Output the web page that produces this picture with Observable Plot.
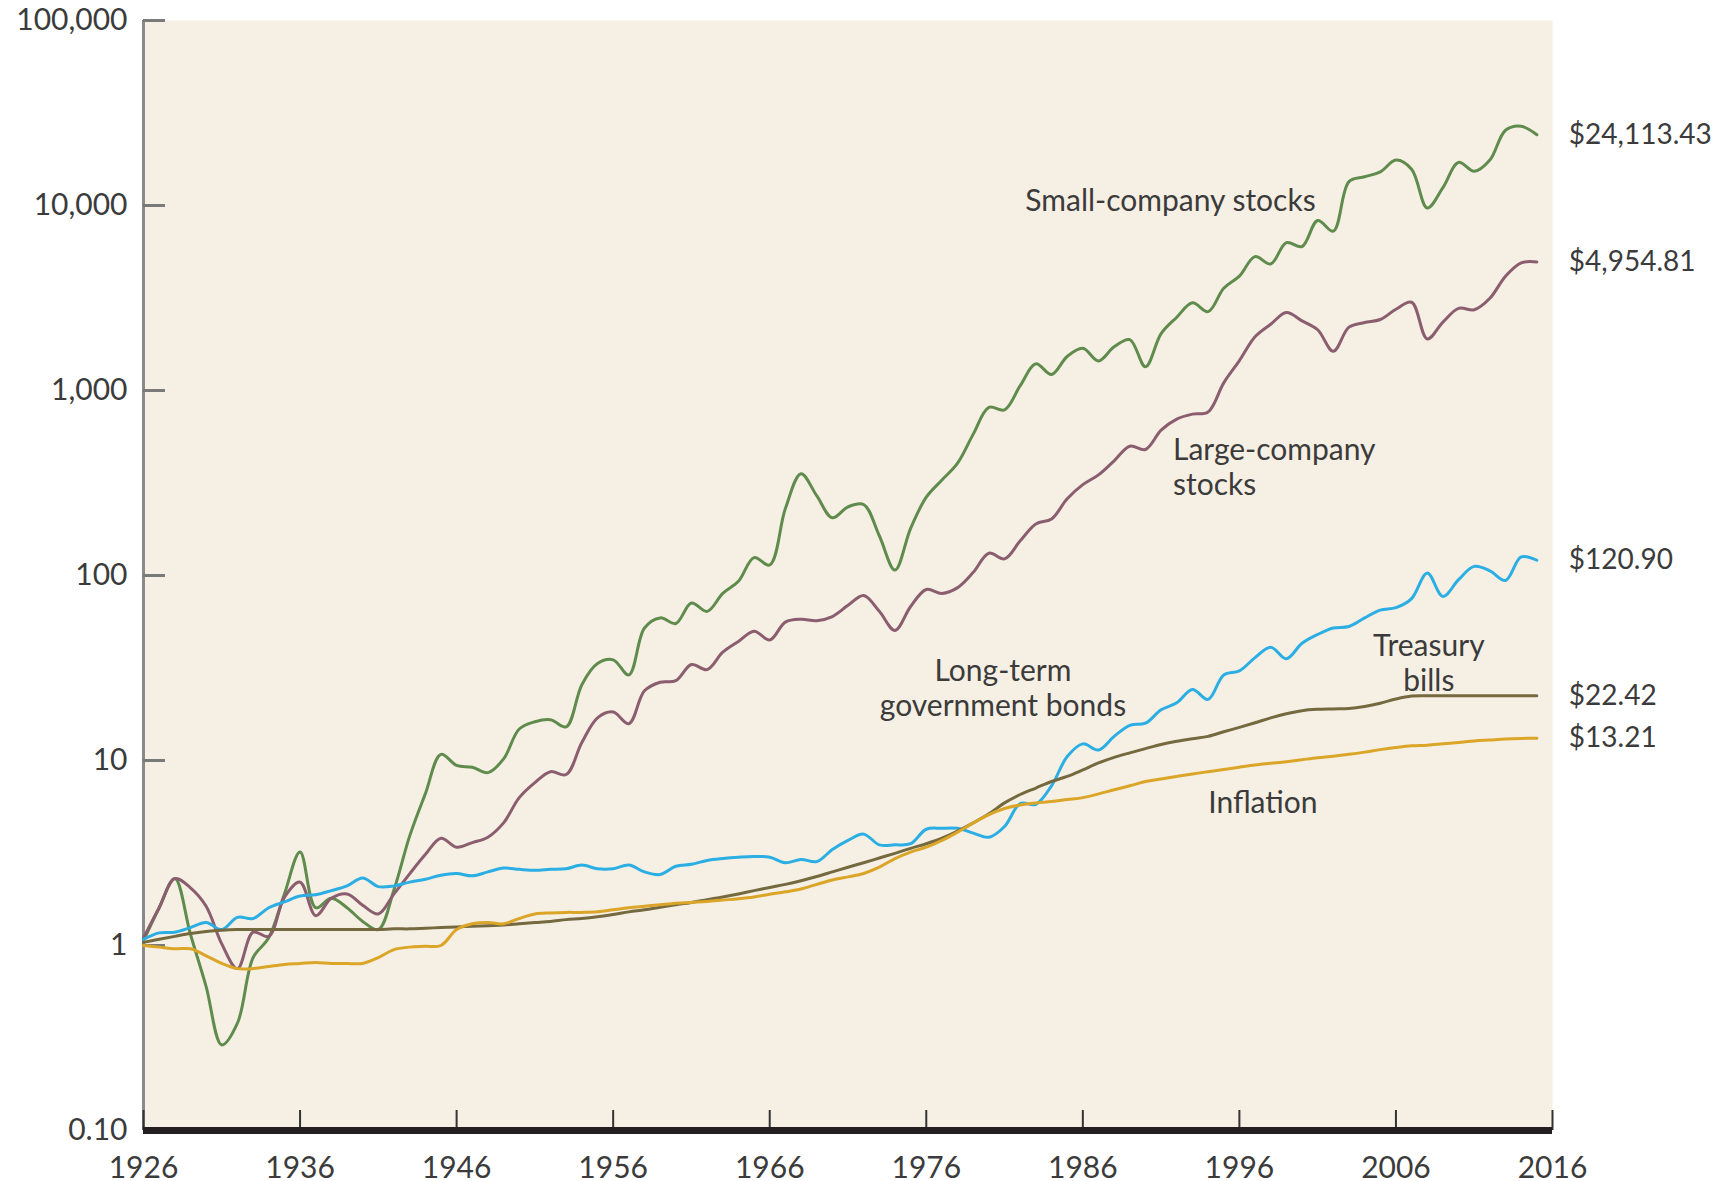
<!DOCTYPE html>
<html><head><meta charset="utf-8">
<script src="https://cdn.jsdelivr.net/npm/d3@7"></script>
<script src="https://cdn.jsdelivr.net/npm/@observablehq/plot@0.6"></script>
<style>
html,body{margin:0;padding:0;background:#fff;}
svg{display:block}
g[aria-label="annotation"] text{letter-spacing:1px}
</style>
</head><body><div id="chart"></div>
<script>
const years = d3.range(1926, 2016);

const smallCompany = [1.06,1.6,2.3,1.15,0.6,0.29,0.38,0.86,1.1,1.9,
  3.2,1.6,1.8,1.6,1.35,1.22,2.0,3.9,6.6,10.8,
  9.4,9.2,8.6,10.2,14.8,16.2,16.6,15.2,25.7,33.4,
  35,29,52,59,55,71,64,80,93,125,
  114,230,355,270,205,235,242,164,107,180,
  265,328,405,581,810,786,1062,1393,1221,1527,
  1690,1445,1722,1884,1345,2030,2490,2980,2670,3570,
  4150,5290,4830,6300,6000,8300,7270,13460,14300,15200,
  17600,15700,9700,12500,17100,15300,17600,25500,26800,24113.43];

const largeCompany = [1.1,1.6,2.3,2.05,1.63,1.02,0.75,1.18,1.12,1.82,
  2.2,1.45,1.8,1.9,1.65,1.48,1.9,2.44,3.1,3.8,
  3.4,3.6,3.85,4.6,6.3,7.6,8.7,8.4,12.5,17,
  18.3,15.8,23.8,26.5,27,33,31,38.5,44,50,
  44.8,56,58,57,60,69,78,64,50.5,68,
  84,80,86,104,132,123,154,190,202,260,
  310,350,417,500,480,610,700,745,765,1100,
  1450,1950,2280,2640,2380,2130,1630,2200,2330,2420,
  2750,3000,1900,2340,2780,2730,3150,4150,4900,4954.81];

const govBonds = [1.08,1.17,1.18,1.25,1.33,1.22,1.42,1.40,1.6,1.72,
  1.85,1.88,1.98,2.1,2.32,2.08,2.1,2.2,2.28,2.4,
  2.45,2.38,2.5,2.62,2.58,2.55,2.58,2.6,2.72,2.6,
  2.6,2.72,2.5,2.42,2.68,2.75,2.88,2.95,3.0,3.03,
  3.0,2.8,2.92,2.84,3.3,3.7,4.0,3.5,3.5,3.55,
  4.25,4.3,4.3,4.05,3.85,4.4,5.85,5.8,7.3,10.5,
  12.3,11.4,13.5,15.5,15.9,18.8,20.5,24.2,21.4,29,
  30.5,36,41,35.5,43,48,52,53,59,65,
  67,75,103,77,95,112,106,94,126,120.9];

const treasuryBills = [1.04,1.08,1.12,1.16,1.19,1.21,1.22,1.22,1.22,1.22,
  1.22,1.22,1.22,1.22,1.22,1.22,1.23,1.23,1.24,1.25,
  1.26,1.27,1.28,1.29,1.31,1.33,1.35,1.38,1.40,1.43,
  1.47,1.52,1.56,1.61,1.66,1.71,1.77,1.83,1.90,1.98,
  2.06,2.14,2.24,2.36,2.50,2.65,2.80,2.97,3.15,3.35,
  3.55,3.80,4.15,4.60,5.15,5.90,6.55,7.10,7.70,8.20,
  8.90,9.70,10.4,11.0,11.6,12.2,12.7,13.1,13.5,14.3,
  15.1,16.0,17.0,17.9,18.6,18.9,19.0,19.1,19.6,20.4,
  21.5,22.3,22.4,22.42,22.42,22.42,22.42,22.42,22.42,22.42];

const inflation = [1.0,0.98,0.96,0.96,0.88,0.8,0.75,0.75,0.77,0.79,
  0.8,0.81,0.8,0.8,0.8,0.86,0.95,0.98,0.99,1.0,
  1.22,1.31,1.33,1.31,1.40,1.48,1.5,1.51,1.51,1.52,
  1.56,1.6,1.63,1.66,1.69,1.71,1.73,1.76,1.79,1.83,
  1.89,1.95,2.02,2.14,2.26,2.35,2.45,2.65,2.95,3.2,
  3.4,3.7,4.1,4.6,5.1,5.5,5.75,5.9,6.0,6.15,
  6.3,6.6,6.95,7.3,7.7,7.95,8.2,8.45,8.7,8.95,
  9.2,9.45,9.65,9.85,10.1,10.35,10.55,10.8,11.1,11.45,
  11.75,12.0,12.1,12.3,12.5,12.75,12.9,13.05,13.15,13.21];

const seriesNames = ["Small-company stocks","Large-company stocks","Long-term government bonds","Treasury bills","Inflation"];
const seriesColors = ["#5f8b4c","#8a5d6f","#2aaee3","#74693f","#dba528"];
const endLabels = ["$24,113.43","$4,954.81","$120.90","$22.42","$13.21"];
const yTicks = [0.1,1,10,100,1000,10000,100000];
const yTickLabels = ["0.10","1","10","100","1,000","10,000","100,000"];
const xTicks = [1926,1936,1946,1956,1966,1976,1986,1996,2006,2016];

const seriesValues = [smallCompany, largeCompany, govBonds, treasuryBills, inflation];
const rows = seriesNames.flatMap((name, i) => years.map((year, j) => ({series: name, year, value: seriesValues[i][j]})));
const ends = seriesNames.map((name, i) => ({series: name, year: years[years.length - 1], value: seriesValues[i][years.length - 1], label: endLabels[i]}));

const textColor = "#3b3b3b";
const chart = Plot.plot({
  width: 1716, height: 1181,
  marginLeft: 143, marginRight: 164, marginTop: 20, marginBottom: 51,
  style: {fontFamily: "Lato, sans-serif", background: "#ffffff", overflow: "visible"},
  x: {domain: [1926, 2016]},
  y: {type: "log", domain: [0.1, 100000]},
  color: {domain: seriesNames, range: seriesColors},
  marks: [
    Plot.frame({fill: "#f6efe4", stroke: "none"}),
    Plot.ruleX([1926], {stroke: "#8a8a8a", strokeWidth: 3}),
    Plot.tickY(yTicks, {y: d => d, insetRight: 1387, stroke: "#7a7a7a", strokeWidth: 3}),
    Plot.axisY({ticks: yTicks, tickFormat: d => yTickLabels[yTicks.indexOf(d)], tickSize: 0, tickPadding: 16, fontSize: 30, fill: textColor, label: null}),
    Plot.axisX({ticks: xTicks, tickFormat: d => String(d), tickSize: 0, tickPadding: 26, fontSize: 30, fill: textColor, label: null}),
    Plot.tickX(xTicks, {x: d => d, insetTop: 1090, stroke: "#333333", strokeWidth: 2}),
    Plot.lineY(rows, {x: "year", y: "value", z: "series", stroke: "series", strokeWidth: 3, curve: "catmull-rom"}),
    Plot.ruleY([0.1], {stroke: "#231f20", strokeWidth: 7}),
    Plot.text(ends, {x: "year", y: "value", text: "label", dx: 32, textAnchor: "start", fontSize: 28, fill: textColor}),
    Plot.text([
      {x: 1991.6, y: 10770, t: "Small-company stocks"},
      {x: 1980.9, y: 24.9, t: "Long-term\ngovernment bonds"},
      {x: 2008.1, y: 33.9, t: "Treasury\nbills"},
      {x: 1997.5, y: 6.0, t: "Inflation"}
    ], {x: "x", y: "y", text: "t", textAnchor: "middle", fontSize: 30, lineHeight: 1.17, fill: textColor, ariaLabel: "annotation"}),
    Plot.text([
      {x: 1991.76, y: 391, t: "Large-company\nstocks"}
    ], {x: "x", y: "y", text: "t", textAnchor: "start", fontSize: 30, lineHeight: 1.17, fill: textColor, ariaLabel: "annotation"})
  ]
});
document.getElementById("chart").appendChild(chart);
</script>
</body></html>
